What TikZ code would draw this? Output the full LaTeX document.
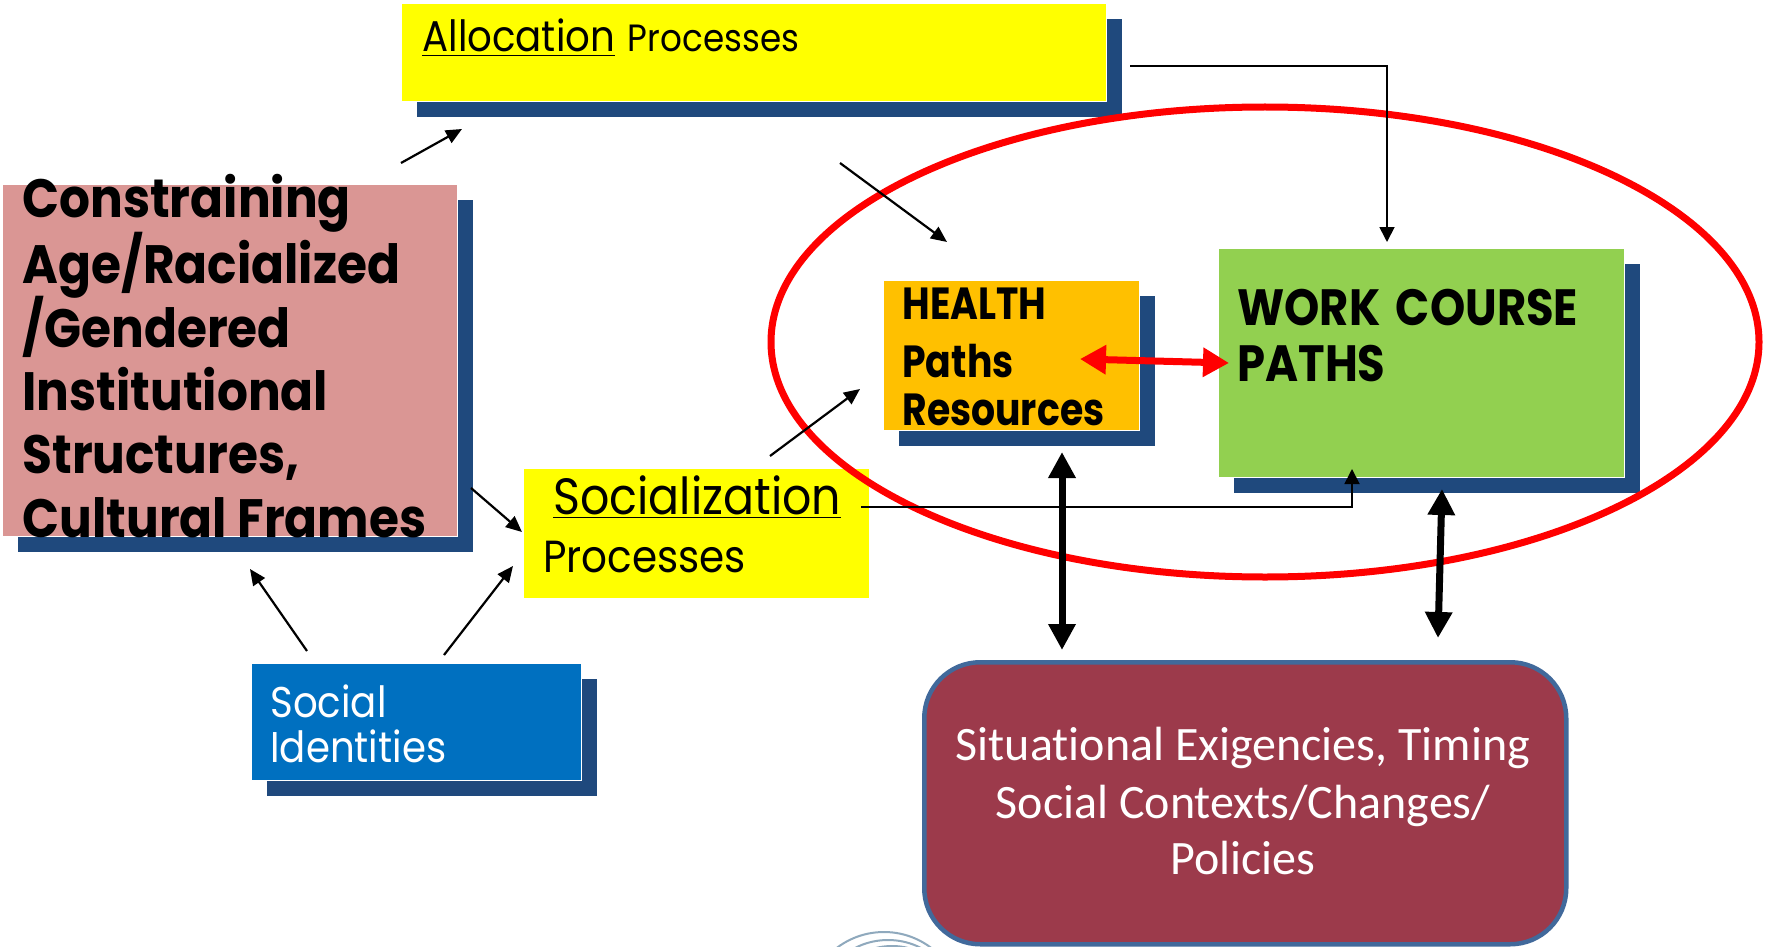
\documentclass[tikz,border=0pt]{standalone}
\usepackage{fontspec}
\setmainfont{Poppins}
\newfontfamily\gothic[FakeStretch=0.9]{Poppins}
\newfontfamily\structfont[FakeStretch=0.9]{Poppins}
\newfontfamily\healthfont[FakeStretch=0.84]{Poppins}
\newfontfamily\workfont[FakeStretch=0.88]{Poppins}
\newfontfamily\calibri[Ligatures=NoCommon]{Carlito}
\usetikzlibrary{arrows.meta}
\usetikzlibrary{shadows}
\usetikzlibrary{positioning}

\definecolor{shadowblue}{HTML}{1F497D}
\definecolor{procyellow}{HTML}{FFFF00}
\definecolor{structpink}{HTML}{DA9694}
\definecolor{identblue}{HTML}{0070C0}
\definecolor{healthorange}{HTML}{FFC000}
\definecolor{workgreen}{HTML}{92D050}
\definecolor{contextred}{HTML}{9C3A4B}
\definecolor{contextrim}{HTML}{41699B}
\definecolor{logoblue}{HTML}{8FA9BD}

\begin{document}
\begin{tikzpicture}[x=0.5pt, y=-0.5pt, box/.style={rectangle, draw=white, line width=0.6pt, anchor=north west, inner sep=0pt, drop shadow={shadow xshift=7.5pt, shadow yshift=-7.5pt, fill=shadowblue, opacity=1}}, flatbox/.style={rectangle, anchor=north west, inner sep=0pt}, txt/.style={anchor=base west, inner sep=0pt}, link/.style={line width=1.1pt, -{Triangle[length=8pt, width=7pt]}}, elbow/.style={line width=0.9pt, -{Triangle[length=7.5pt, width=7.5pt]}}, bothway/.style={line width=3.5pt, {Triangle[length=13pt, width=13pt]}-{Triangle[length=13pt, width=13pt]}}, redway/.style={red, line width=3.5pt, {Triangle[length=13pt, width=14pt]}-{Triangle[length=13pt, width=14pt]}}]
\useasboundingbox (0,0) rectangle (1768,947);
\fill [white] (0,0) rectangle (1768,947);

% faint logo at the bottom
\begin{scope}
\clip (0,0) rectangle (1768,947);
\draw [logoblue, line width=1pt] (884,1010) circle [radius=39pt];
\draw [logoblue, line width=1pt] (888,1012) circle [radius=36pt];
\draw [logoblue, line width=1pt] (892,1012) circle [radius=33pt];
\end{scope}

% boxes
\node [box, fill=procyellow, minimum width=352.5pt, minimum height=49pt] (alloc) at (401,3) {};
\node [box, fill=structpink, minimum width=227.5pt, minimum height=176pt] (struct) at (2,184) {};
\node [flatbox, fill=procyellow, minimum width=172.5pt, minimum height=64.5pt] (social) at (524,469) {};
\node [box, fill=identblue, minimum width=165pt, minimum height=58.5pt] (ident) at (251,663) {};
\node [box, fill=healthorange, minimum width=128pt, minimum height=75pt] (health) at (883,280) {};
\node [box, fill=workgreen, minimum width=203pt, minimum height=114.5pt] (work) at (1218,248) {};
\node [rectangle, rounded corners=28pt, draw=contextrim, line width=2.25pt, fill=contextred, anchor=north west, minimum width=321pt, minimum height=141pt] (context) at (922,660) {};

% texts
\node [txt] (alloctext) at (422,52) {\gothic{\fontsize{21.5}{26}\selectfont\underline{Allocation}}\hspace{4pt} {\fontsize{19}{23}\selectfont Processes}};
\node [txt, font=\structfont\fontsize{27}{32}\selectfont\bfseries] (struct1) at (22,218) {Constraining};
\node [txt, font=\structfont\fontsize{27}{32}\selectfont\bfseries] (struct2) at (22,283) {Age/Racialized};
\node [txt, font=\structfont\fontsize{27}{32}\selectfont\bfseries] (struct3) at (22,347) {/Gendered};
\node [txt, font=\structfont\fontsize{27}{32}\selectfont\bfseries] (struct4) at (22,410) {Institutional};
\node [txt, font=\structfont\fontsize{27}{32}\selectfont\bfseries] (struct5) at (22,473) {Structures,};
\node [txt, font=\structfont\fontsize{27}{32}\selectfont\bfseries] (struct6) at (22,537) {Cultural Frames};
\node [txt, font=\gothic\fontsize{25.5}{30}\selectfont] (social1) at (553,514) {\underline{Socialization}};
\node [txt, font=\gothic\fontsize{22.5}{27}\selectfont] (social2) at (543,572) {Processes};
\node [txt, white, font=\gothic\fontsize{21.5}{26}\selectfont] (ident1) at (270,717) {Social};
\node [txt, white, font=\gothic\fontsize{21.5}{26}\selectfont] (ident2) at (270,762) {Identities};
\node [txt, font=\healthfont\fontsize{22.5}{27}\selectfont\bfseries] (health1) at (902,319) {HEALTH};
\node [txt, font=\healthfont\fontsize{22.5}{27}\selectfont\bfseries] (health2) at (902,377) {Paths};
\node [txt, font=\healthfont\fontsize{22.5}{27}\selectfont\bfseries] (health3) at (902,425) {Resources};
\node [txt, font=\workfont\fontsize{25.5}{30}\selectfont\bfseries] (work1) at (1237,325) {WORK\hspace{3pt} COURSE};
\node [txt, font=\workfont\fontsize{25.5}{30}\selectfont\bfseries] (work2) at (1237,381) {PATHS};
\node [anchor=base, inner sep=0pt, white, font=\calibri\fontsize{24}{28}\selectfont] (context1) at (1243,760) {Situational Exigencies, Timing};
\node [anchor=base, inner sep=0pt, white, font=\calibri\fontsize{24}{28}\selectfont] (context2) at (1243,818) {Social Contexts/Changes/};
\node [anchor=base, inner sep=0pt, white, font=\calibri\fontsize{24}{28}\selectfont] (context3) at (1243,874) {Policies};

% the red circle round the two paths
\draw [red, line width=3.5pt] (1265,342) ellipse [x radius=247pt, y radius=117.5pt];

% arrow ends
\coordinate (structout) at (401,163);
\coordinate (allocin) at (462,129);
\coordinate (allocout) at (840,163);
\coordinate (healthin) at (947,242);
\coordinate (allocside) at (1130,66);
\coordinate (workin) at (1387,242);
\coordinate (structside) at (471,488);
\coordinate (socialin) at (522,532);
\coordinate (identleft) at (307,651);
\coordinate (structin) at (250,569);
\coordinate (identright) at (444,655);
\coordinate (socialin2) at (513,566);
\coordinate (socialout) at (770,456);
\coordinate (healthin2) at (860,389);
\coordinate (socialside) at (861,507);
\coordinate (workbottom) at (1352,469);
\coordinate (healthleft) at (1080,359);
\coordinate (workleft) at (1229,363);
\coordinate (healthbelow) at (1062,452);
\coordinate (contextleft) at (1062,650);
\coordinate (workbelow) at (1442,489);
\coordinate (contextright) at (1438,638);

% connectors
\draw [link] (structout) -- (allocin);
\draw [link] (allocout) -- (healthin);
\draw [elbow] (allocside) -- (allocside -| workin) -- (workin);
\draw [link] (structside) -- (socialin);
\draw [link] (identleft) -- (structin);
\draw [link] (identright) -- (socialin2);
\draw [link] (socialout) -- (healthin2);
\draw [elbow] (socialside) -| (workbottom);
\draw [redway] (healthleft) -- (workleft);
\draw [bothway] (healthbelow) -- (contextleft);
\draw [bothway] (workbelow) -- (contextright);
\end{tikzpicture}
\end{document}
